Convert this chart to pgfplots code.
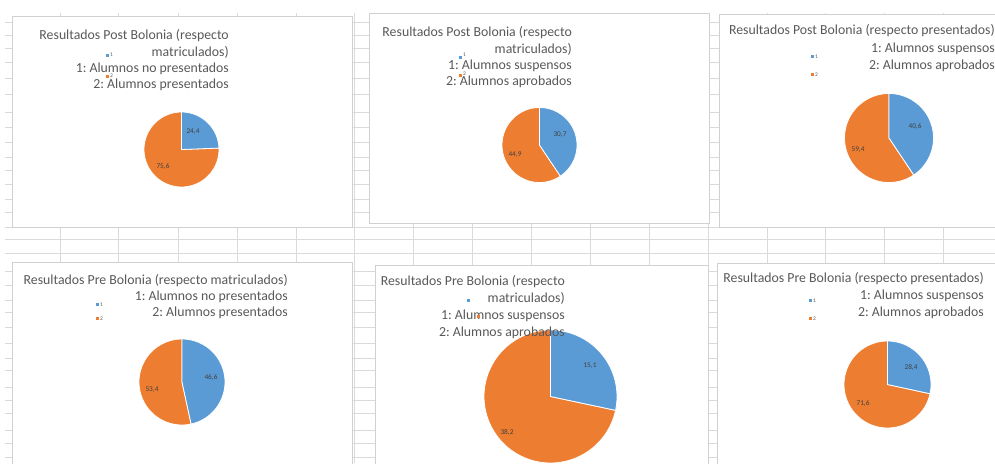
\documentclass[border=0pt]{standalone}
\usepackage{pgfplots}
\pgfplotsset{compat=1.18}
\usepackage{fontspec}
\setmainfont{Carlito}
\frenchspacing
\definecolor{cblue}{HTML}{5B9BD5}
\definecolor{corange}{HTML}{ED7D31}
\definecolor{ctext}{HTML}{595959}
\definecolor{clab}{HTML}{404040}
\definecolor{cgrid}{HTML}{DADADA}
\definecolor{cframe}{HTML}{D0D0D0}
% pie: cx, cy, r, value1 (blue), value2 (orange)  -- pixel coordinates, y downwards
\newcommand{\pie}[5]{%
  \addplot[fill=corange, draw=white, line width=0.8pt, domain=-270:90-360*#4/(#4+#5), samples=90, variable=\t]
    ({#1+#3*cos(\t)},{#2-#3*sin(\t)}) -- (axis cs:#1,#2) -- cycle;
  \addplot[fill=cblue, draw=white, line width=0.8pt, domain=90-360*#4/(#4+#5):90, samples=60, variable=\t]
    ({#1+#3*cos(\t)},{#2-#3*sin(\t)}) -- (axis cs:#1,#2) -- cycle;
}
\newcommand{\titlefont}{\fontsize{13.8}{16}\selectfont}
\newcommand{\labfont}{\fontsize{7.3}{8}\selectfont}
\newcommand{\legfont}{\fontsize{5.5}{6}\selectfont}
\begin{document}
\begin{tikzpicture}
\useasboundingbox (0,0) rectangle (995pt,463pt);
\clip (0,0) rectangle (995pt,463pt);
\fill[white] (0,0) rectangle (995pt,463pt);
\begin{scope}[x=1pt, y=-1pt, yshift=463pt]
  % spreadsheet grid
  \foreach \x in {60,118,178,237,296,354,413,472,531,590,649,708,767,825,884,943}
    \draw[cgrid, line width=0.6pt] (\x,13) -- (\x,463);
  \foreach \y in {22,35,48,62,78,94,112,127,142,157,170,184,199,212,227,239,253,271,285,300,312,327,343,358,370,387,400,413,430,443,457}
    \draw[cgrid, line width=0.6pt] (5,\y) -- (995,\y);
  % chart panels
  \filldraw[fill=white, draw=cframe, line width=0.7pt] (12,16) rectangle (352,227);
  \filldraw[fill=white, draw=cframe, line width=0.7pt] (369,13) rectangle (709,223);
  \filldraw[fill=white, draw=cframe, line width=0.7pt] (719,14) rectangle (1005,227);
  \filldraw[fill=white, draw=cframe, line width=0.7pt] (12,262) rectangle (352,475);
  \filldraw[fill=white, draw=cframe, line width=0.7pt] (375,265) rectangle (708,475);
  \filldraw[fill=white, draw=cframe, line width=0.7pt] (717,263) rectangle (1005,475);
\end{scope}
\begin{axis}[at={(0pt,0pt)}, anchor=south west, scale only axis,
  width=995pt, height=463pt, xmin=0, xmax=995, ymin=0, ymax=463,
  y dir=reverse, hide axis, clip=false]
  \pie{181.5}{149.5}{37.5}{24.4}{75.6}
  \pie{539.5}{145}{37.5}{30.7}{44.9}
  \pie{889}{138}{44.5}{40.6}{59.4}
  \pie{182}{382}{43}{46.6}{53.4}
  \pie{550.5}{396.5}{66.5}{15.1}{38.2}
  \pie{887.5}{384.5}{43.5}{28.4}{71.6}
\end{axis}
\begin{scope}[x=1pt, y=-1pt, yshift=463pt, every node/.style={inner sep=0pt, text=ctext}]
  % ---------- Panel 1
  \node[anchor=base east, font=\titlefont] at (229,40) {Resultados Post Bolonia (respecto};
  \node[anchor=base east, font=\titlefont] at (229,57) {matriculados)};
  \node[anchor=base east, font=\titlefont] at (229,73) {1: Alumnos no presentados};
  \node[anchor=base east, font=\titlefont] at (229,89) {2: Alumnos presentados};
  \fill[cblue] (105.5,54) rectangle (108.5,57);
  \node[anchor=west, font=\legfont] at (110,55) {1};
  \fill[corange] (105.5,75) rectangle (108.5,78);
  \node[anchor=west, font=\legfont] at (110,76) {2};
  \node[font=\labfont, text=clab] at (193,132) {24,4};
  \node[font=\labfont, text=clab] at (163,167) {75,6};
  % ---------- Panel 2
  \node[anchor=base east, font=\titlefont] at (572,37) {Resultados Post Bolonia (respecto};
  \node[anchor=base east, font=\titlefont] at (572,54) {matriculados)};
  \node[anchor=base east, font=\titlefont] at (572,70) {1: Alumnos suspensos};
  \node[anchor=base east, font=\titlefont] at (572,86) {2: Alumnos aprobados};
  \fill[cblue] (458.5,56) rectangle (461.5,59);
  \node[anchor=west, font=\legfont] at (463,55) {1};
  \fill[corange] (458.5,74) rectangle (461.5,77);
  \node[anchor=west, font=\legfont] at (463,74) {2};
  \node[font=\labfont, text=clab] at (560,135) {30,7};
  \node[font=\labfont, text=clab] at (515,155) {44,9};
  % ---------- Panel 3
  \node[anchor=base east, font=\titlefont] at (995,35) {Resultados Post Bolonia (respecto presentados)};
  \node[anchor=base east, font=\titlefont] at (995,53) {1: Alumnos suspensos};
  \node[anchor=base east, font=\titlefont] at (995,70) {2: Alumnos aprobados};
  \fill[cblue] (810.5,55.5) rectangle (813.5,58.5);
  \node[anchor=west, font=\legfont] at (815,57) {1};
  \fill[corange] (810.5,73.5) rectangle (813.5,76.5);
  \node[anchor=west, font=\legfont] at (815,75) {2};
  \node[font=\labfont, text=clab] at (915,127) {40,6};
  \node[font=\labfont, text=clab] at (858,150) {59,4};
  % ---------- Panel 4
  \node[anchor=base east, font=\titlefont] at (288,285) {Resultados Pre Bolonia (respecto matriculados)};
  \node[anchor=base east, font=\titlefont] at (288,301) {1: Alumnos no presentados};
  \node[anchor=base east, font=\titlefont] at (288,317) {2: Alumnos presentados};
  \fill[cblue] (95.5,303.5) rectangle (98.5,306.5);
  \node[anchor=west, font=\legfont] at (100,305) {1};
  \fill[corange] (95.5,317.5) rectangle (98.5,320.5);
  \node[anchor=west, font=\legfont] at (100,319) {2};
  \node[font=\labfont, text=clab] at (211,378) {46,6};
  \node[font=\labfont, text=clab] at (152,390) {53,4};
  % ---------- Panel 6
  \node[anchor=base east, font=\titlefont] at (984,283) {Resultados Pre Bolonia (respecto presentados)};
  \node[anchor=base east, font=\titlefont] at (984,300) {1: Alumnos suspensos};
  \node[anchor=base east, font=\titlefont] at (984,317) {2: Alumnos aprobados};
  \fill[cblue] (808.5,299.5) rectangle (811.5,302.5);
  \node[anchor=west, font=\legfont] at (813,301) {1};
  \fill[corange] (808.5,317.5) rectangle (811.5,320.5);
  \node[anchor=west, font=\legfont] at (813,319) {2};
  \node[font=\labfont, text=clab] at (911,367) {28,4};
  \node[font=\labfont, text=clab] at (863,404) {71,6};
  % ---------- Panel 5
  \node[anchor=base east, font=\titlefont] at (565,286) {Resultados Pre Bolonia (respecto};
  \node[anchor=base east, font=\titlefont] at (565,303) {matriculados)};
  \node[anchor=base east, font=\titlefont] at (565,320) {1: Alumnos suspensos};
  \node[anchor=base east, font=\titlefont] at (565,337) {2: Alumnos aprobados};
  \fill[cblue] (466.5,299.5) rectangle (469.5,302.5);
  \fill[corange] (476.5,315.5) rectangle (479.5,318.5);
  \node[font=\labfont, text=clab] at (590,366) {15,1};
  \node[font=\labfont, text=clab] at (507,432) {38,2};
\end{scope}
\end{tikzpicture}
\end{document}
